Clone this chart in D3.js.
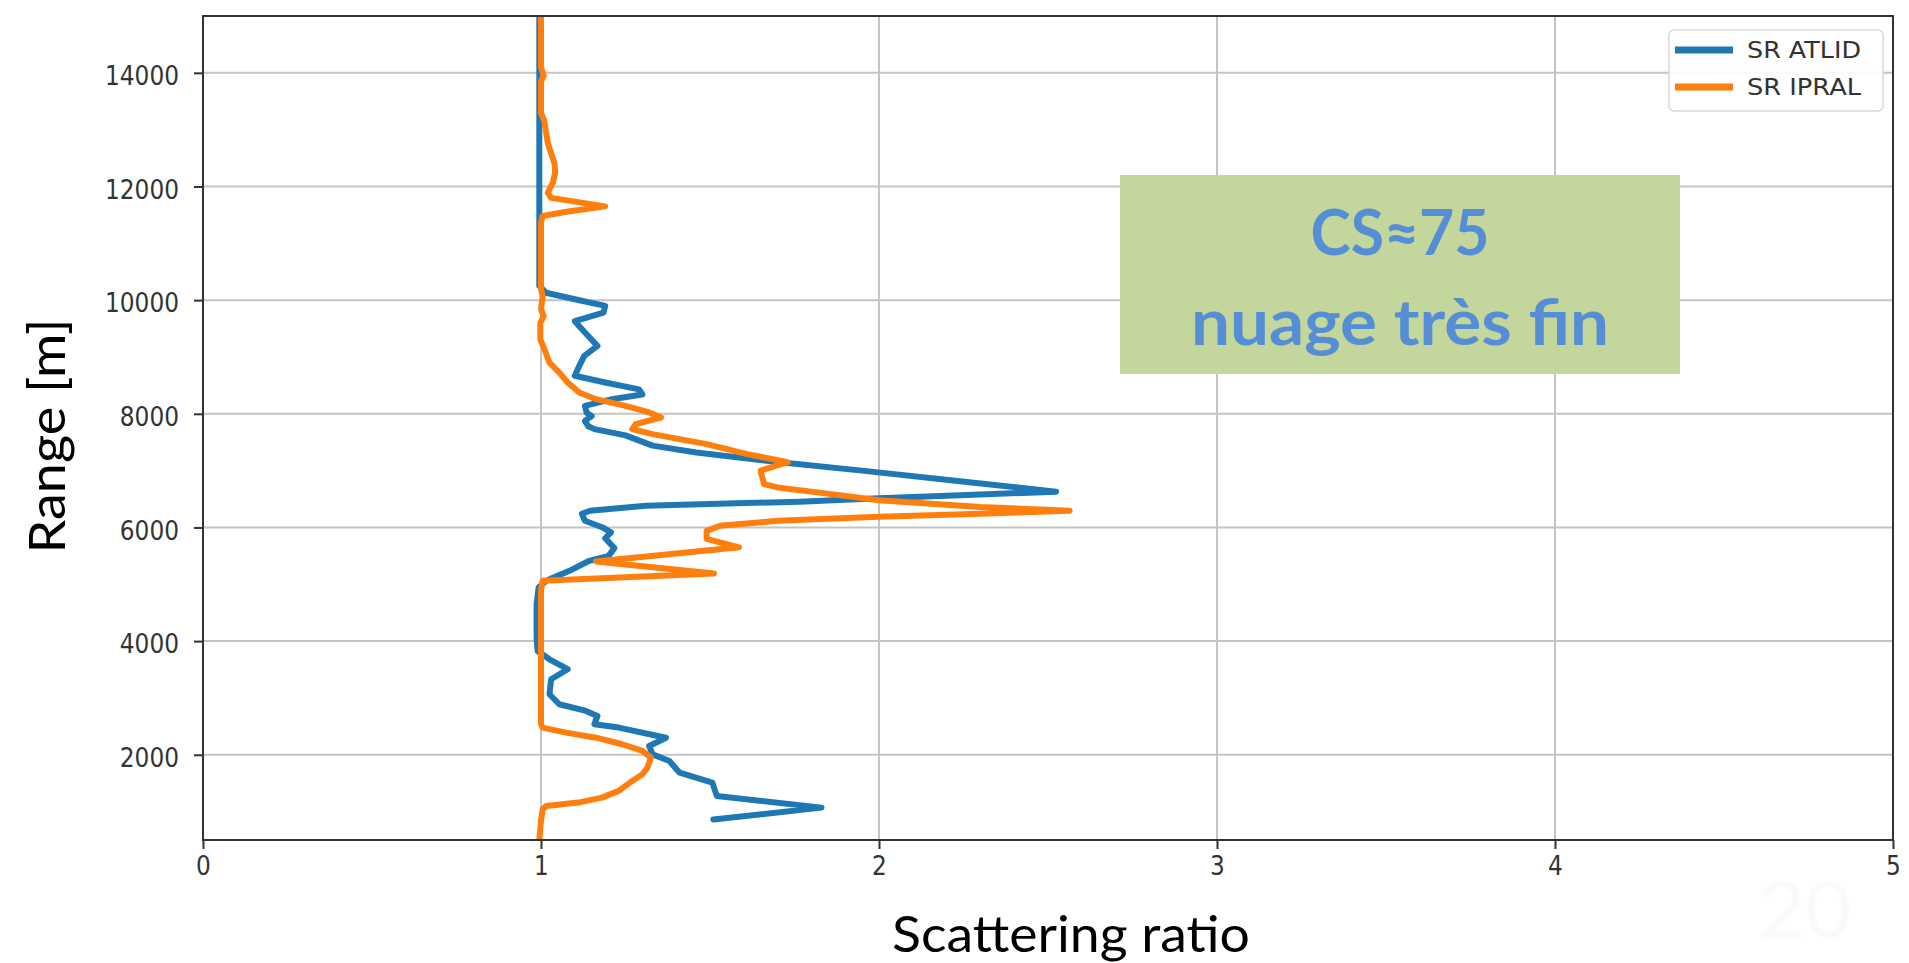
<!DOCTYPE html>
<html>
<head>
<meta charset="utf-8">
<script src="https://cdn.jsdelivr.net/npm/d3@7"></script>
<style>
  html, body { margin: 0; padding: 0; background: #ffffff; }
  svg { display: block; }
</style>
</head>
<body>
<svg id="chart" width="1909" height="963"></svg>
<script>
// Scattering ratio profiles (ratio, range in metres), listed from top to bottom
const atlidRatio = [0.995, 0.995, 0.995, 0.995, 1.015, 1.10, 1.19, 1.185, 1.10, 1.13, 1.167, 1.128, 1.113, 1.10, 1.19, 1.29, 1.30, 1.21, 1.13, 1.135, 1.15, 1.13, 1.14, 1.158, 1.25, 1.33, 1.46, 1.70, 1.95, 2.26, 2.524, 2.26, 2.0, 1.765, 1.31, 1.145, 1.121, 1.13, 1.182, 1.207, 1.19, 1.217, 1.20, 1.143, 1.084, 1.03, 1.015, 0.993, 0.987, 0.987, 0.99, 1.025, 1.079, 1.03, 1.025, 1.054, 1.133, 1.167, 1.158, 1.23, 1.37, 1.32, 1.33, 1.38, 1.41, 1.507, 1.52, 1.83, 1.51];
const atlidRange = [15000, 13300, 11500, 10250, 10130, 10015, 9900, 9780, 9630, 9430, 9195, 9020, 8840, 8670, 8550, 8430, 8340, 8257, 8140, 8020, 7960, 7875, 7780, 7730, 7620, 7440, 7320, 7150, 7000, 6800, 6630, 6570, 6513, 6454, 6380, 6293, 6240, 6117, 6000, 5912, 5810, 5636, 5500, 5413, 5237, 5100, 5060, 4943, 4650, 4060, 3826, 3680, 3505, 3329, 3065, 2889, 2772, 2684, 2537, 2478, 2300, 2155, 2007, 1890, 1684, 1510, 1276, 1070, 860];

const ipralRatio = [1.0, 1.0, 1.008, 1.0, 1.0, 1.01, 1.02, 1.04, 1.042, 1.035, 1.02, 1.03, 1.19, 1.08, 1.005, 1.0, 1.0, 1.005, 1.0, 1.008, 0.998, 0.998, 1.01, 1.025, 1.054, 1.079, 1.113, 1.163, 1.25, 1.32, 1.355, 1.28, 1.27, 1.33, 1.49, 1.61, 1.73, 1.65, 1.652, 1.66, 1.70, 1.80, 2.0, 2.3, 2.564, 2.3, 2.0, 1.70, 1.53, 1.49, 1.49, 1.586, 1.163, 1.512, 1.005, 1.0, 1.0, 1.005, 1.074, 1.163, 1.24, 1.30, 1.325, 1.315, 1.30, 1.27, 1.23, 1.18, 1.11, 1.015, 1.005, 1.0, 0.995];
const ipralRange = [15000, 14100, 13950, 13850, 13300, 13150, 12770, 12400, 12250, 12066, 11890, 11800, 11650, 11560, 11480, 11360, 10200, 10070, 9840, 9720, 9600, 9310, 9136, 8900, 8725, 8550, 8374, 8257, 8140, 8023, 7935, 7818, 7730, 7643, 7467, 7291, 7150, 7000, 6940, 6763, 6704, 6630, 6480, 6360, 6294, 6240, 6190, 6117, 6030, 5940, 5800, 5650, 5400, 5190, 5060, 4900, 2540, 2478, 2390, 2300, 2185, 2068, 1950, 1774, 1656, 1540, 1364, 1246, 1158, 1100, 1041, 836, 500];

const seriesNames = ["SR ATLID", "SR IPRAL"];
const seriesColors = ["#1f77b4", "#ff7f0e"];

const xTicks = [0, 1, 2, 3, 4, 5];
const yTicks = [2000, 4000, 6000, 8000, 10000, 12000, 14000];

const xTitle = "Scattering ratio";
const yTitle = "Range [m]";
const noteLines = ["CS≈75", "nuage très fin"];

// ---- layout ----
const plotLeft = 203, plotRight = 1893, plotTop = 16, plotBottom = 840;
const svg = d3.select("#chart");

const x = d3.scaleLinear().domain([0, 5]).range([plotLeft, plotRight]);
const y = d3.scaleLinear().domain([500, 15000]).range([plotBottom, plotTop]);

// grid
const grid = svg.append("g").attr("class", "grid");
grid.selectAll("line.gx").data(xTicks.slice(1, -1)).join("line")
  .attr("x1", d => x(d)).attr("x2", d => x(d))
  .attr("y1", plotTop).attr("y2", plotBottom)
  .attr("stroke", "#c4c4c4").attr("stroke-width", 2);
grid.selectAll("line.gy").data(yTicks).join("line")
  .attr("x1", plotLeft).attr("x2", plotRight)
  .attr("y1", d => y(d)).attr("y2", d => y(d))
  .attr("stroke", "#c4c4c4").attr("stroke-width", 2);

// profiles
const toPoints = (r, h) => r.map((v, i) => [v, h[i]]);
const line = d3.line().x(d => x(d[0])).y(d => y(d[1]));
svg.append("clipPath").attr("id", "plotclip")
  .append("rect").attr("x", plotLeft).attr("y", plotTop)
  .attr("width", plotRight - plotLeft).attr("height", plotBottom - plotTop);

const profiles = [toPoints(atlidRatio, atlidRange), toPoints(ipralRatio, ipralRange)];
svg.append("g").attr("clip-path", "url(#plotclip)")
  .selectAll("path").data(profiles).join("path")
  .attr("d", line)
  .attr("fill", "none")
  .attr("stroke", (d, i) => seriesColors[i])
  .attr("stroke-width", 6)
  .attr("stroke-linejoin", "round")
  .attr("stroke-linecap", "round");

// axes
const tickFont = "'DejaVu Sans', sans-serif";
const xAxis = svg.append("g").attr("transform", `translate(0,${plotBottom})`)
  .call(d3.axisBottom(x).tickValues(xTicks).tickFormat(d3.format("d"))
    .tickSizeInner(9).tickSizeOuter(0).tickPadding(8));
const yAxis = svg.append("g").attr("transform", `translate(${plotLeft},0)`)
  .call(d3.axisLeft(y).tickValues(yTicks).tickFormat(d3.format("d"))
    .tickSizeInner(9).tickSizeOuter(0).tickPadding(15));

[xAxis, yAxis].forEach(g => {
  g.select(".domain").remove();
  g.selectAll(".tick line").attr("stroke", "#333").attr("stroke-width", 2);
  g.selectAll(".tick text")
    .attr("fill", "#333")
    .style("font-family", tickFont)
    .style("font-size", "26px")
    .attr("textLength", function () { return this.textContent.length * 14.8; })
    .attr("lengthAdjust", "spacingAndGlyphs");
});
yAxis.selectAll(".tick text").attr("dy", "0.45em");

// frame
svg.append("rect")
  .attr("x", plotLeft).attr("y", plotTop)
  .attr("width", plotRight - plotLeft).attr("height", plotBottom - plotTop)
  .attr("fill", "none").attr("stroke", "#333").attr("stroke-width", 2);

// axis titles
const titleFont = "Lato, 'Open Sans', sans-serif";
svg.append("text")
  .attr("x", 1071).attr("y", 952)
  .attr("text-anchor", "middle")
  .style("font-family", titleFont).style("font-size", "50px")
  .attr("fill", "#000")
  .attr("textLength", 358).attr("lengthAdjust", "spacingAndGlyphs")
  .text(xTitle);
svg.append("text")
  .attr("transform", "translate(65,436) rotate(-90)")
  .attr("text-anchor", "middle")
  .style("font-family", titleFont).style("font-size", "50px")
  .attr("fill", "#000")
  .attr("textLength", 235).attr("lengthAdjust", "spacingAndGlyphs")
  .text(yTitle);

// legend
const legend = svg.append("g");
legend.append("rect")
  .attr("x", 1669).attr("y", 30).attr("width", 214).attr("height", 81)
  .attr("rx", 5).attr("fill", "#fff").attr("fill-opacity", 0.9)
  .attr("stroke", "#d9d9d9").attr("stroke-width", 1.5);
const legendRows = legend.selectAll("g.row").data(seriesNames).join("g")
  .attr("transform", (d, i) => `translate(1675,${50 + i * 37})`);
legendRows.append("line")
  .attr("x1", 0).attr("x2", 58).attr("y1", 0).attr("y2", 0)
  .attr("stroke", (d, i) => seriesColors[i]).attr("stroke-width", 7);
legendRows.append("text")
  .attr("x", 72).attr("y", 0).attr("dy", "0.36em")
  .style("font-family", tickFont).style("font-size", "23px")
  .attr("fill", "#333")
  .attr("textLength", 114).attr("lengthAdjust", "spacingAndGlyphs")
  .text(d => d);

// annotation box
const note = svg.append("g");
note.append("rect")
  .attr("x", 1120).attr("y", 175).attr("width", 560).attr("height", 199)
  .attr("fill", "#c3d69b");
const noteWidths = [179, 418];
note.selectAll("text").data(noteLines).join("text")
  .attr("x", 1400).attr("y", (d, i) => 255 + i * 90)
  .attr("text-anchor", "middle")
  .style("font-family", titleFont).style("font-weight", "bold").style("font-size", "64px")
  .attr("fill", "#558ed5")
  .attr("textLength", (d, i) => noteWidths[i]).attr("lengthAdjust", "spacingAndGlyphs")
  .text(d => d);

// faint page number
svg.append("text")
  .attr("x", 1805).attr("y", 938).attr("text-anchor", "middle")
  .style("font-family", titleFont).style("font-size", "80px")
  .attr("fill", "#fafaf8")
  .text("20");
</script>
</body>
</html>
